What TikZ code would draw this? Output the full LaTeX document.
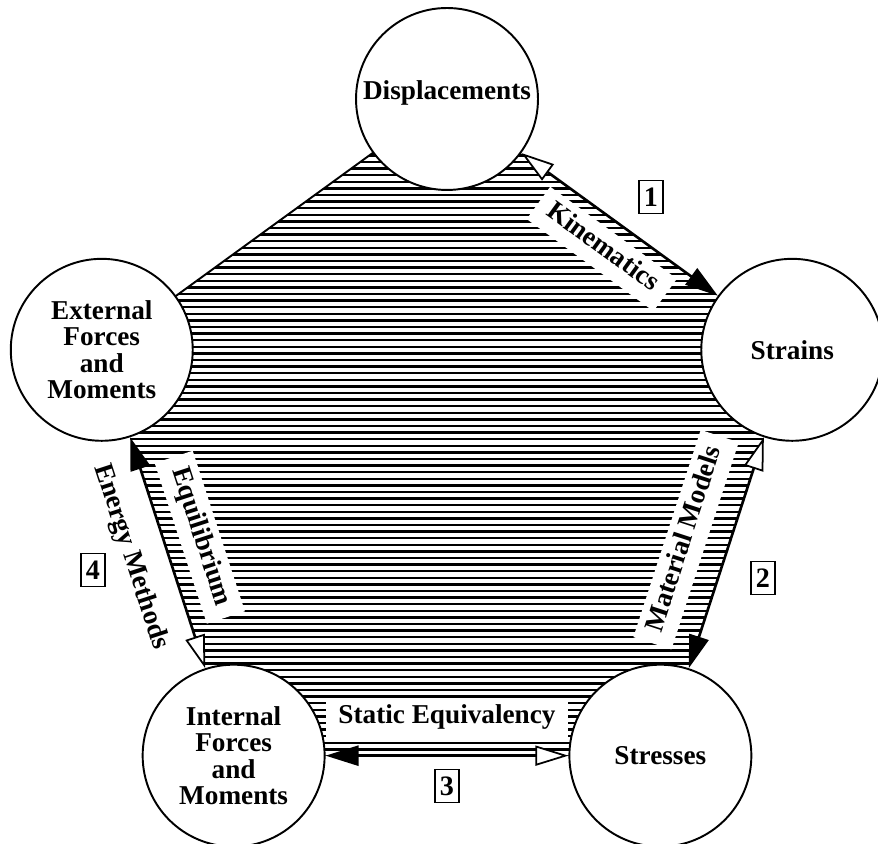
\documentclass[tikz,border=0pt]{standalone}
\usepackage{fontspec}
\setmainfont{Liberation Serif}
\usetikzlibrary{arrows.meta}
\tikzset{
  stage/.style={
    circle,
    draw,
    line width=1.1pt,
    fill=white,
    minimum size=3.64cm,
    inner sep=0pt,
    align=center,
    font=\bfseries\fontsize{15.5}{15}\selectfont
  },
  edgelabel/.style={
    fill=white,
    inner xsep=2.5mm,
    inner ysep=1.6mm,
    text height=3.5mm,
    text depth=1.3mm,
    font=\bfseries\fontsize{15.5}{18}\selectfont
  },
  sidelabel/.style={
    edgelabel,
    fill=none
  },
  numbox/.style={
    draw,
    line width=0.9pt,
    fill=white,
    minimum width=4.8mm,
    minimum height=6.6mm,
    inner sep=1pt,
    font=\bfseries\fontsize{16}{18}\selectfont
  },
  openhead/.tip={Triangle[open,fill=white,length=6.6mm,width=4mm,line width=1pt]},
  fullhead/.tip={Triangle[length=6.6mm,width=4mm]},
  fwdlink/.style={line width=1.5pt,{openhead}-{fullhead}},
  backlink/.style={line width=1.5pt,{fullhead}-{openhead}},
  hatchline/.style={line width=1.4pt}
}

\begin{document}
\begin{tikzpicture}[x=0.02cm,y=0.02cm]
  \useasboundingbox (0,0) rectangle (878,844);
  % corners of the pentagon
  \coordinate (hub) at (447,382);
  \path (hub) ++(90:363) coordinate (pDisp);
  \path (hub) ++(18:363) coordinate (pStrn);
  \path (hub) ++(-54:363) coordinate (pStrs);
  \path (hub) ++(-126:363) coordinate (pIntf);
  \path (hub) ++(162:363) coordinate (pExtf);
  % striped face
  \begin{scope}
    \clip (pDisp) -- (pStrn) -- (pStrs) -- (pIntf) -- (pExtf) -- cycle;
    \foreach \k in {0,...,100}
      \draw[hatchline] (0,{88+6.6*\k}) -- (878,{88+6.6*\k});
  \end{scope}
  \draw[line width=1.1pt] (pDisp) -- (pExtf);
  % the five stages
  \node[stage] (disp) at (pDisp) {Displacements\\[-1.7mm]};
  \node[stage] (strn) at (pStrn) {Strains};
  \node[stage] (strs) at (pStrs) {Stresses};
  \node[stage] (intf) at (pIntf) {Internal\\Forces\\and\\Moments};
  \node[stage] (extf) at (pExtf) {External\\Forces\\and\\Moments};
  % links
  \draw[fwdlink] (disp) -- node[edgelabel, pos=0.5, sloped, below=1.8mm] (kinlab) {Kinematics} (strn);
  \draw[backlink] (strs) -- node[edgelabel, pos=0.5, sloped, above=4.2mm] (matlab) {Material Models} (strn);
  \draw[backlink] (intf) -- node[edgelabel, pos=0.5, above=3.2mm] (statlab) {Static Equivalency} (strs);
  \draw[backlink] (extf) -- node[edgelabel, pos=0.48, sloped, above=2.8mm] (eqlab) {Equilibrium}
    node[sidelabel, pos=0.47, sloped, below=3.2mm] (enlab) {Energy Methods} (intf);
  % step numbers
  \node[numbox] (n1) at (651,647) {1};
  \node[numbox] (n2) at (763,266) {2};
  \node[numbox] (n3) at (447,58) {3};
  \node[numbox] (n4) at (93,274) {4};
\end{tikzpicture}
\end{document}
